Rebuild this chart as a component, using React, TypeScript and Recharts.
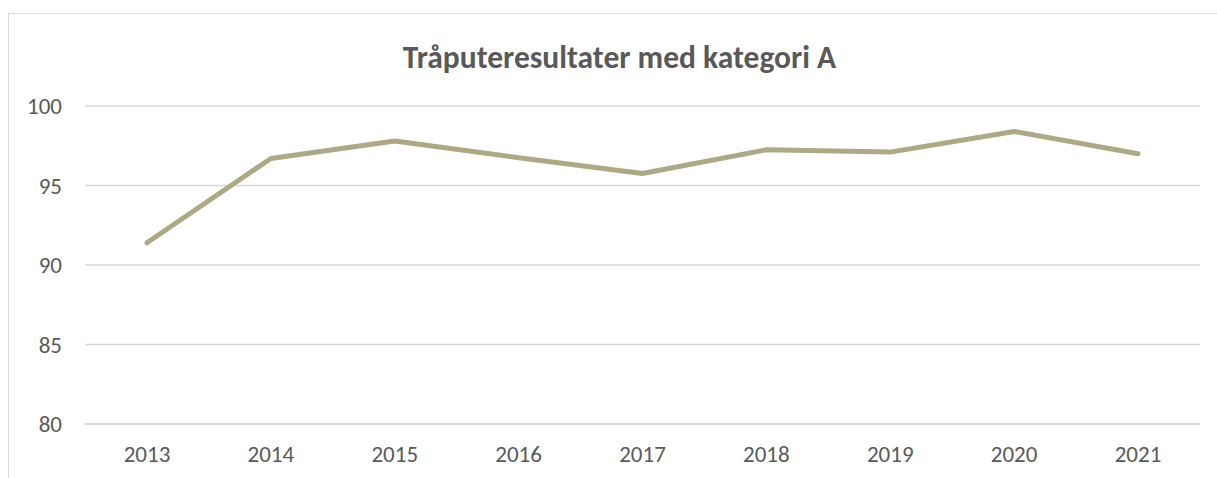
import React from 'react';
import { LineChart, Line, XAxis, YAxis, CartesianGrid } from 'recharts';

const years = ['2013', '2014', '2015', '2016', '2017', '2018', '2019', '2020', '2021'];
const scores = [91.4, 96.7, 97.8, 96.75, 95.75, 97.25, 97.1, 98.4, 97.0];
const yTicks = [80, 85, 90, 95, 100];

const FONT = "Calibri, Carlito, 'Open Sans', sans-serif";
const TEXT = '#595959';
const GRID = '#d9d9d9';
const LINE = '#ADA886';

const chartData = years.map((year, i) => ({ year, value: scores[i] }));

const App: React.FC = () => {
    return (
        <div style={{ position: 'absolute', left: 0, top: 0, width: 1217, height: 478, background: '#fff', fontFamily: FONT, overflow: 'hidden' }}>
            <style>{'html, body { overflow: hidden; }'}</style>
            <div
                style={{
                    position: 'absolute',
                    left: 8,
                    top: 13,
                    width: 1209,
                    height: 465,
                    borderLeft: `1px solid ${GRID}`,
                    borderTop: `1px solid ${GRID}`,
                    boxSizing: 'border-box',
                }}
            />
            <div
                style={{
                    position: 'absolute',
                    left: 0,
                    width: 1217,
                    paddingLeft: 22,
                    boxSizing: 'border-box',
                    top: 37,
                    textAlign: 'center',
                    fontSize: 31.5,
                    fontWeight: 700,
                    color: TEXT,
                    lineHeight: '40px',
                }}
            >
                Tråputeresultater med kategori A
            </div>
            <div style={{ position: 'absolute', left: 0, top: 0 }}>
                <LineChart width={1217} height={478} data={chartData} margin={{ top: 106, right: 17, bottom: 0, left: 0 }}>
                    <CartesianGrid vertical={false} stroke={GRID} strokeWidth={1.5} />
                    <XAxis
                        dataKey="year"
                        height={54}
                        padding={{ left: 62, right: 62 }}
                        tickLine={false}
                        axisLine={{ stroke: GRID, strokeWidth: 1.5 }}
                        tickSize={0}
                        tickMargin={22}
                        tick={{ fill: TEXT, fontSize: 23, fontFamily: FONT }}
                    />
                    <YAxis
                        domain={[80, 100]}
                        ticks={yTicks}
                        width={85}
                        tickLine={false}
                        axisLine={false}
                        tickSize={0}
                        tickMargin={23}
                        tick={{ fill: TEXT, fontSize: 23, fontFamily: FONT }}
                    />
                    <Line
                        type="linear"
                        dataKey="value"
                        stroke={LINE}
                        strokeWidth={5}
                        strokeLinecap="round"
                        strokeLinejoin="round"
                        dot={false}
                        activeDot={false}
                        isAnimationActive={false}
                    />
                </LineChart>
            </div>
        </div>
    );
};

export default App;
